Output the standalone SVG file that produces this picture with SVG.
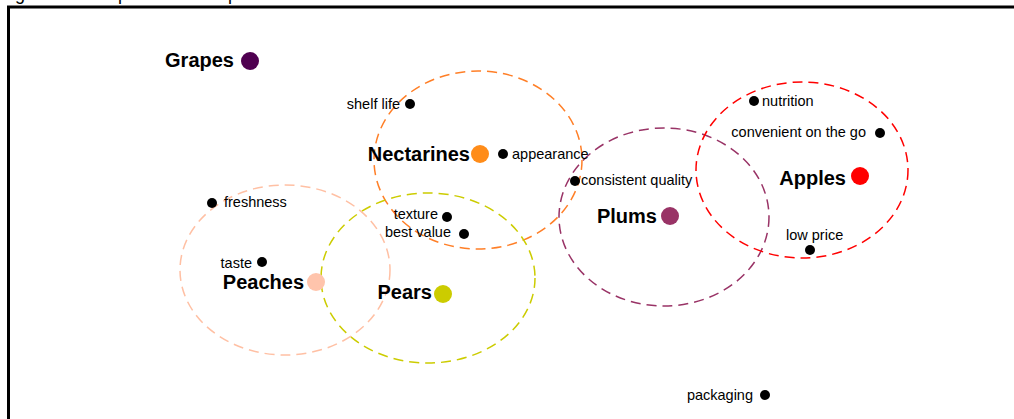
<svg xmlns="http://www.w3.org/2000/svg" width="1014" height="419" viewBox="0 0 1014 419">
  <style>
    .title { font-family: "Liberation Sans", Arial, sans-serif; font-size: 18px; fill: #000; }
    .fruit { font-family: "Liberation Sans", Arial, sans-serif; font-size: 20px; font-weight: bold; fill: #000; }
    .attr { font-family: "Liberation Sans", Arial, sans-serif; font-size: 14.5px; fill: #000; }
    .cluster { fill: none; stroke-width: 1.5; stroke-dasharray: 10 6; }
    .pt { fill: #000; }
  </style>

  <rect width="1014" height="419" fill="#fff"/>
  <!-- caption line runs above the frame, mostly outside the page top -->
  <text class="title" x="0" y="-0.5">Figure 3 Perceptual Fruit Map of Attributes</text>
  <rect x="8.5" y="7" width="1030" height="450" fill="none" stroke="#000" stroke-width="3"/>

  <!-- cluster outlines -->
  <g id="clusters">
    <ellipse class="cluster" cx="478" cy="160" rx="104" ry="89" stroke="#FF7F27"/>
    <ellipse class="cluster" cx="428" cy="278" rx="107" ry="85" stroke="#CCCC00"/>
    <ellipse class="cluster" cx="285" cy="270" rx="105" ry="85" stroke="#FFC0A4"/>
    <ellipse class="cluster" cx="664" cy="217" rx="105" ry="89" stroke="#993366"/>
    <ellipse class="cluster" cx="802" cy="170" rx="106" ry="88" stroke="#FF0000"/>
  </g>

  <!-- fruits -->
  <g id="grapes">
    <circle cx="250" cy="61" r="9" fill="#4F0050"/>
    <text class="fruit" x="234" y="67" text-anchor="end">Grapes</text>
  </g>
  <g id="nectarines">
    <circle cx="480" cy="154" r="9" fill="#FF8C19"/>
    <text class="fruit" x="470" y="161" text-anchor="end">Nectarines</text>
  </g>
  <g id="peaches">
    <circle cx="316" cy="282" r="9" fill="#FFC4AC"/>
    <text class="fruit" x="304" y="289" text-anchor="end">Peaches</text>
  </g>
  <g id="pears">
    <circle cx="443" cy="294" r="9" fill="#CCCC00"/>
    <text class="fruit" x="432" y="299" text-anchor="end">Pears</text>
  </g>
  <g id="plums">
    <circle cx="670" cy="216" r="9" fill="#993366"/>
    <text class="fruit" x="657" y="223" text-anchor="end">Plums</text>
  </g>
  <g id="apples">
    <circle cx="860" cy="176" r="9" fill="#FF0000"/>
    <text class="fruit" x="846" y="185" text-anchor="end">Apples</text>
  </g>

  <!-- attributes -->
  <g id="shelf-life">
    <circle class="pt" cx="410" cy="104" r="5"/>
    <text class="attr" x="400" y="109" text-anchor="end">shelf life</text>
  </g>
  <g id="appearance">
    <circle class="pt" cx="503" cy="154" r="5"/>
    <text class="attr" x="512" y="159">appearance</text>
  </g>
  <g id="freshness">
    <circle class="pt" cx="212" cy="203" r="5"/>
    <text class="attr" x="224" y="207">freshness</text>
  </g>
  <g id="texture">
    <circle class="pt" cx="447" cy="217" r="5"/>
    <text class="attr" x="438" y="219" text-anchor="end">texture</text>
  </g>
  <g id="best-value">
    <circle class="pt" cx="464" cy="234" r="5"/>
    <text class="attr" x="451" y="237" text-anchor="end">best value</text>
  </g>
  <g id="taste">
    <circle class="pt" cx="262" cy="262" r="5"/>
    <text class="attr" x="252" y="268" text-anchor="end">taste</text>
  </g>
  <g id="consistent-quality">
    <circle class="pt" cx="575" cy="181" r="5"/>
    <text class="attr" x="581" y="185">consistent quality</text>
  </g>
  <g id="nutrition">
    <circle class="pt" cx="754" cy="101" r="5"/>
    <text class="attr" x="762" y="106">nutrition</text>
  </g>
  <g id="convenient-on-the-go">
    <circle class="pt" cx="880" cy="133" r="5"/>
    <text class="attr" x="866" y="137" text-anchor="end">convenient on the go</text>
  </g>
  <g id="low-price">
    <circle class="pt" cx="810" cy="250" r="5"/>
    <text class="attr" x="786" y="240">low price</text>
  </g>
  <g id="packaging">
    <circle class="pt" cx="765" cy="395" r="5"/>
    <text class="attr" x="753" y="400" text-anchor="end">packaging</text>
  </g>

  <!-- no connectors between nodes -->
  <g id="connectors"/>
</svg>
